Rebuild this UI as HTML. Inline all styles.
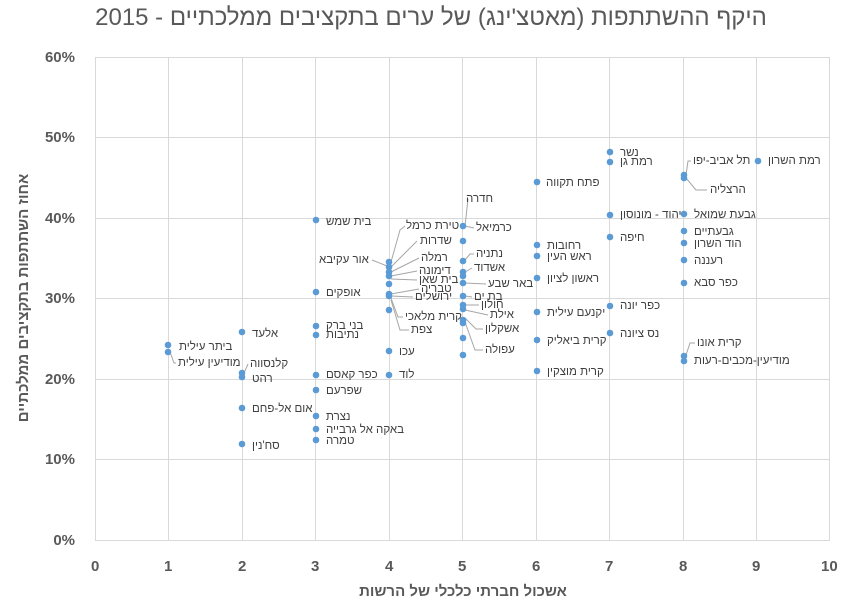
<!DOCTYPE html>
<html><head><meta charset="utf-8"><style>
body{margin:0;width:848px;height:608px;background:#fff;position:relative;overflow:hidden;font-family:"Liberation Sans","Noto Sans CJK SC",sans-serif}
.l{position:absolute;font-size:11.5px;color:#404040;white-space:nowrap;line-height:12px;transform:translateY(-6px);direction:rtl;unicode-bidi:plaintext}
.t{position:absolute;color:#595959;font-weight:bold;font-size:15px}
</style></head><body>
<svg width="848" height="608" style="position:absolute;left:0;top:0">
<g stroke="#d9d9d9" stroke-width="1">
<line x1="95" y1="57.5" x2="830" y2="57.5"/><line x1="95" y1="137.5" x2="830" y2="137.5"/><line x1="95" y1="218.5" x2="830" y2="218.5"/><line x1="95" y1="298.5" x2="830" y2="298.5"/><line x1="95" y1="379.5" x2="830" y2="379.5"/><line x1="95" y1="459.5" x2="830" y2="459.5"/><line x1="95" y1="540.5" x2="830" y2="540.5"/>
<line x1="95.5" y1="57" x2="95.5" y2="540"/><line x1="168.5" y1="57" x2="168.5" y2="540"/><line x1="242.5" y1="57" x2="242.5" y2="540"/><line x1="315.5" y1="57" x2="315.5" y2="540"/><line x1="389.5" y1="57" x2="389.5" y2="540"/><line x1="462.5" y1="57" x2="462.5" y2="540"/><line x1="536.5" y1="57" x2="536.5" y2="540"/><line x1="609.5" y1="57" x2="609.5" y2="540"/><line x1="683.5" y1="57" x2="683.5" y2="540"/><line x1="756.5" y1="57" x2="756.5" y2="540"/><line x1="829.5" y1="57" x2="829.5" y2="540"/>
</g>
<g stroke="#a6a6a6" fill="none" stroke-width="1">
<polyline points="391,262 400,230 405,226"/><polyline points="391,267 417,241"/><polyline points="391,272 419,258"/><polyline points="391,276 417,271"/><polyline points="391,279 417,280"/><polyline points="391,294 419,289"/><polyline points="391,296 413,297"/><polyline points="391,298 398,317 403,317"/><polyline points="391,300 400,330 409,330"/><polyline points="372,260 387,266"/>
<polyline points="465,226 468,199"/><polyline points="465,226 474,228"/><polyline points="465,260 470,254 474,254"/><polyline points="465,272 472,268"/><polyline points="465,283 486,284"/><polyline points="465,296 472,297"/><polyline points="465,305 479,305"/><polyline points="465,310 488,315"/><polyline points="465,318 476,329 483,329"/><polyline points="465,322 475,350 483,350"/>
<polyline points="170,352 174,363 176,363"/><polyline points="244,373 248,364"/>
<polyline points="686,175 688,161 691,161"/><polyline points="686,178 696,190 707,190"/><polyline points="686,355 690,343 695,343"/>
</g>
<g fill="#5b9bd5">
<circle cx="168" cy="345" r="3.3"/><circle cx="168" cy="352" r="3.3"/>
<circle cx="242" cy="332" r="3.3"/><circle cx="242" cy="373" r="3.3"/><circle cx="242" cy="377" r="3.3"/><circle cx="242" cy="408" r="3.3"/><circle cx="242" cy="444" r="3.3"/>
<circle cx="316" cy="220" r="3.3"/><circle cx="316" cy="292" r="3.3"/><circle cx="316" cy="326" r="3.3"/><circle cx="316" cy="335" r="3.3"/><circle cx="316" cy="375" r="3.3"/><circle cx="316" cy="390" r="3.3"/><circle cx="316" cy="416" r="3.3"/><circle cx="316" cy="429" r="3.3"/><circle cx="316" cy="440" r="3.3"/>
<circle cx="389" cy="262" r="3.3"/><circle cx="389" cy="267" r="3.3"/><circle cx="389" cy="272" r="3.3"/><circle cx="389" cy="276" r="3.3"/><circle cx="389" cy="284" r="3.3"/><circle cx="389" cy="294" r="3.3"/><circle cx="389" cy="296" r="3.3"/><circle cx="389" cy="310" r="3.3"/><circle cx="389" cy="351" r="3.3"/><circle cx="389" cy="375" r="3.3"/>
<circle cx="463" cy="226" r="3.3"/><circle cx="463" cy="241" r="3.3"/><circle cx="463" cy="261" r="3.3"/><circle cx="463" cy="272" r="3.3"/><circle cx="463" cy="276" r="3.3"/><circle cx="463" cy="283" r="3.3"/><circle cx="463" cy="296" r="3.3"/><circle cx="463" cy="305" r="3.3"/><circle cx="463" cy="309" r="3.3"/><circle cx="463" cy="320" r="3.3"/><circle cx="463" cy="323" r="3.3"/><circle cx="463" cy="338" r="3.3"/><circle cx="463" cy="355" r="3.3"/>
<circle cx="537" cy="182" r="3.3"/><circle cx="537" cy="245" r="3.3"/><circle cx="537" cy="256" r="3.3"/><circle cx="537" cy="278" r="3.3"/><circle cx="537" cy="312" r="3.3"/><circle cx="537" cy="340" r="3.3"/><circle cx="537" cy="371" r="3.3"/>
<circle cx="610" cy="152" r="3.3"/><circle cx="610" cy="162" r="3.3"/><circle cx="610" cy="215" r="3.3"/><circle cx="610" cy="237" r="3.3"/><circle cx="610" cy="306" r="3.3"/><circle cx="610" cy="333" r="3.3"/>
<circle cx="684" cy="175" r="3.3"/><circle cx="684" cy="178" r="3.3"/><circle cx="684" cy="214" r="3.3"/><circle cx="684" cy="231" r="3.3"/><circle cx="684" cy="243" r="3.3"/><circle cx="684" cy="260" r="3.3"/><circle cx="684" cy="283" r="3.3"/><circle cx="684" cy="356" r="3.3"/><circle cx="684" cy="361" r="3.3"/>
<circle cx="758" cy="161" r="3.3"/>
</g>
<text transform="translate(28,298) rotate(-90)" text-anchor="middle" font-size="15" font-weight="bold" fill="#595959" font-family="Liberation Sans, Noto Sans CJK SC, sans-serif">אחוז השתתפות בתקציבים ממלכתיים</text>
</svg>
<div style="position:absolute;left:0;width:848px;top:4px;text-align:center;font-size:24px;color:#595959;padding-left:14px;box-sizing:border-box">היקף ההשתתפות (מאטצ'ינג) של ערים בתקציבים ממלכתיים - 2015</div>
<div class="t" style="right:773px;top:49px">60%</div><div class="t" style="right:773px;top:129px">50%</div><div class="t" style="right:773px;top:210px">40%</div><div class="t" style="right:773px;top:290px">30%</div><div class="t" style="right:773px;top:371px">20%</div><div class="t" style="right:773px;top:451px">10%</div><div class="t" style="right:773px;top:532px">0%</div>
<div class="t" style="left:91px;top:558px">0</div><div class="t" style="left:164px;top:558px">1</div><div class="t" style="left:238px;top:558px">2</div><div class="t" style="left:311px;top:558px">3</div><div class="t" style="left:385px;top:558px">4</div><div class="t" style="left:458px;top:558px">5</div><div class="t" style="left:532px;top:558px">6</div><div class="t" style="left:605px;top:558px">7</div><div class="t" style="left:679px;top:558px">8</div><div class="t" style="left:752px;top:558px">9</div><div class="t" style="left:821px;top:558px">10</div>
<div class="t" style="left:0;width:848px;top:583px;text-align:center;padding-left:78px;box-sizing:border-box">אשכול חברתי כלכלי של הרשות</div>

<div class="l" style="left:179px;top:347px">ביתר עילית</div><div class="l" style="left:178px;top:363px">מודיעין עילית</div>
<div class="l" style="left:252px;top:334px">אלעד</div><div class="l" style="left:250px;top:364px">קלנסווה</div><div class="l" style="left:252px;top:379px">רהט</div><div class="l" style="left:252px;top:409px">אום אל-פחם</div><div class="l" style="left:252px;top:446px">סח'נין</div>
<div class="l" style="left:326px;top:222px">בית שמש</div><div class="l" style="left:326px;top:293px">אופקים</div><div class="l" style="left:326px;top:326px">בני ברק</div><div class="l" style="left:326px;top:335px">נתיבות</div><div class="l" style="left:326px;top:375px">כפר קאסם</div><div class="l" style="left:326px;top:391px">שפרעם</div><div class="l" style="left:326px;top:417px">נצרת</div><div class="l" style="left:326px;top:430px">באקה אל גרבייה</div><div class="l" style="left:326px;top:441px">טמרה</div>
<div class="l" style="left:406px;top:226px">טירת כרמל</div><div class="l" style="left:420px;top:241px">שדרות</div><div class="l" style="left:421px;top:258px">רמלה</div><div class="l" style="left:419px;top:271px">דימונה</div><div class="l" style="left:419px;top:280px">בית שאן</div><div class="l" style="left:421px;top:289px">טבריה</div><div class="l" style="left:415px;top:297px">ירושלים</div><div class="l" style="left:405px;top:317px">קרית מלאכי</div><div class="l" style="left:411px;top:330px">צפת</div><div class="l" style="left:319px;top:260px">אור עקיבא</div><div class="l" style="left:399px;top:352px">עכו</div><div class="l" style="left:399px;top:375px">לוד</div>
<div class="l" style="left:466px;top:199px">חדרה</div><div class="l" style="left:476px;top:228px">כרמיאל</div><div class="l" style="left:476px;top:254px">נתניה</div><div class="l" style="left:474px;top:268px">אשדוד</div><div class="l" style="left:488px;top:284px">באר שבע</div><div class="l" style="left:474px;top:297px">בת ים</div><div class="l" style="left:481px;top:305px">חולון</div><div class="l" style="left:490px;top:315px">אילת</div><div class="l" style="left:485px;top:329px">אשקלון</div><div class="l" style="left:485px;top:350px">עפולה</div>
<div class="l" style="left:546px;top:183px">פתח תקווה</div><div class="l" style="left:547px;top:246px">רחובות</div><div class="l" style="left:547px;top:257px">ראש העין</div><div class="l" style="left:547px;top:279px">ראשון לציון</div><div class="l" style="left:547px;top:313px">יקנעם עילית</div><div class="l" style="left:547px;top:341px">קרית ביאליק</div><div class="l" style="left:547px;top:372px">קרית מוצקין</div>
<div class="l" style="left:620px;top:153px">נשר</div><div class="l" style="left:620px;top:162px">רמת גן</div><div class="l" style="left:620px;top:215px">יהוד - מונוסון</div><div class="l" style="left:620px;top:238px">חיפה</div><div class="l" style="left:620px;top:306px">כפר יונה</div><div class="l" style="left:620px;top:334px">נס ציונה</div>
<div class="l" style="left:693px;top:161px">תל אביב-יפו</div><div class="l" style="left:710px;top:190px">הרצליה</div><div class="l" style="left:694px;top:215px">גבעת שמואל</div><div class="l" style="left:694px;top:232px">גבעתיים</div><div class="l" style="left:694px;top:244px">הוד השרון</div><div class="l" style="left:694px;top:261px">רעננה</div><div class="l" style="left:694px;top:283px">כפר סבא</div><div class="l" style="left:697px;top:343px">קרית אונו</div><div class="l" style="left:694px;top:361px">מודיעין-מכבים-רעות</div>
<div class="l" style="left:768px;top:161px">רמת השרון</div>
</body></html>
